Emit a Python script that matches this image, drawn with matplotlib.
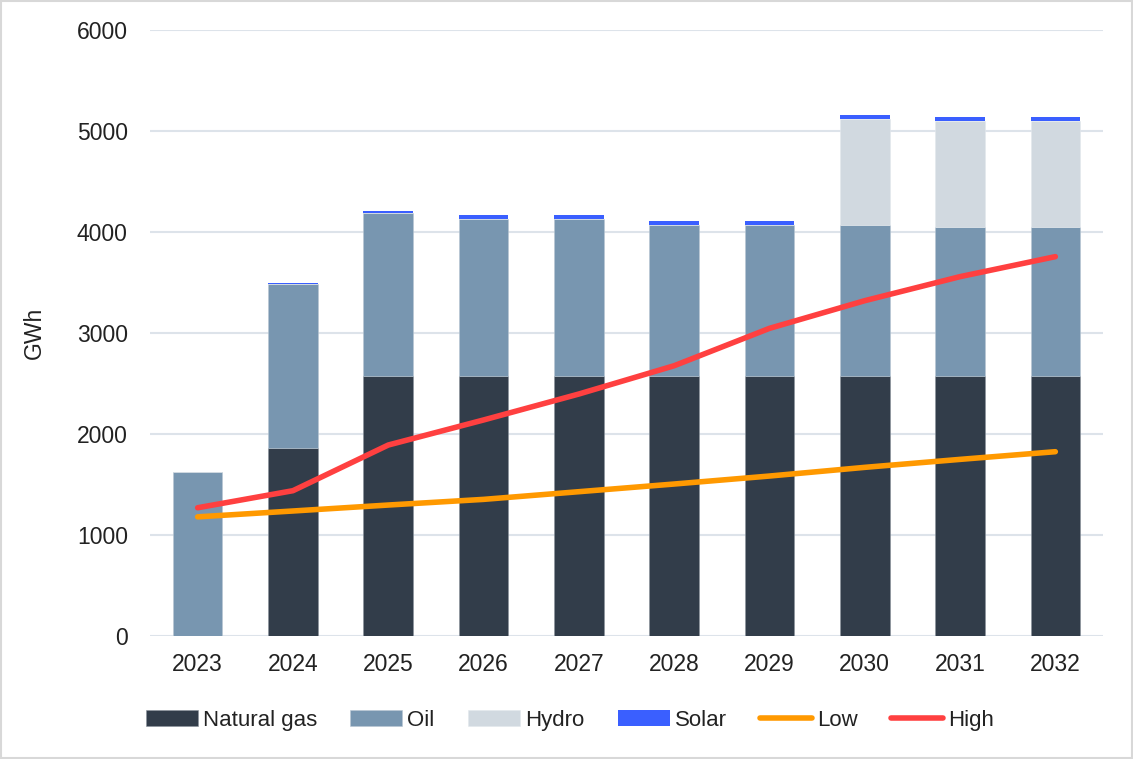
import numpy as np
import matplotlib.pyplot as plt

plt.rcParams['font.family'] = ['Liberation Sans', 'DejaVu Sans']

years = ['2023', '2024', '2025', '2026', '2027', '2028', '2029', '2030', '2031', '2032']
natural_gas = [0, 1860, 2570, 2570, 2570, 2570, 2570, 2570, 2570, 2570]
oil = [1620, 1630, 1620, 1560, 1560, 1500, 1500, 1500, 1480, 1480]
hydro = [0, 0, 0, 0, 0, 0, 0, 1050, 1050, 1050]
solar = [0, 10, 13, 40, 40, 40, 40, 36, 40, 40]
low = [1180, 1238, 1297, 1353, 1429, 1505, 1584, 1670, 1749, 1825]
high = [1270, 1439, 1891, 2139, 2396, 2676, 3046, 3320, 3558, 3756]

c_gas = '#323d4a'
c_oil = '#7896b0'
c_hydro = '#d1d9e0'
c_solar = '#3a5fff'
c_low = '#ff9900'
c_high = '#ff4040'
txt = '#222222'

x = np.arange(len(years))
w = 0.52

fig = plt.figure(figsize=(11.33, 7.59), dpi=100)
ax = fig.add_axes([0.1324, 0.162, 0.8411, 0.7985])

b0 = np.array(natural_gas)
b1 = b0 + np.array(oil)
b2 = b1 + np.array(hydro)
ax.bar(x, natural_gas, w, color=c_gas, edgecolor='#8a939c', linewidth=0.4, label='Natural gas', zorder=2)
ax.bar(x, oil, w, bottom=b0, color=c_oil, edgecolor='#b8c6d2', linewidth=0.4, label='Oil', zorder=2)
ax.bar(x, hydro, w, bottom=b1, color=c_hydro, edgecolor='#e3e8ed', linewidth=0.4, label='Hydro', zorder=2)
ax.bar(x, solar, w, bottom=b2, color=c_solar, linewidth=0, label='Solar', zorder=2)
ax.plot(x, low, color=c_low, lw=4, solid_capstyle='round', label='Low', zorder=3)
ax.plot(x, high, color=c_high, lw=4, solid_capstyle='round', label='High', zorder=3)

ax.set_xlim(-0.5, 9.5)
ax.set_ylim(0, 6000)
ax.set_yticks(range(0, 6001, 1000))
ax.set_xticks(x)
ax.set_xticklabels(years)
ax.grid(axis='y', color='#dde3ea', lw=1.5, zorder=0)
ax.set_axisbelow(True)
for s in ax.spines.values():
    s.set_visible(False)
ax.tick_params(length=0, labelsize=16.5, colors=txt)
ax.tick_params(axis='y', pad=16)
ax.tick_params(axis='x', pad=12)
ax.set_ylabel('GWh', fontsize=16.5, color=txt, labelpad=22)

# legend order as in the source: bars first, then lines
handles, labels = ax.get_legend_handles_labels()
order = [2, 3, 4, 5, 0, 1]
fig.legend([handles[i] for i in order], [labels[i] for i in order],
           loc='center', bbox_to_anchor=(0.503, 0.051), ncol=6, frameon=False,
           fontsize=16, handlelength=2.35, handleheight=0.68, handletextpad=0.22,
           columnspacing=1.5, labelcolor=txt)

fig.patches.append(plt.Rectangle((0.001, 0.001), 0.998, 0.998, transform=fig.transFigure,
                                 fill=False, edgecolor='#d8d8d8', lw=1.5))

plt.savefig('out.png')
